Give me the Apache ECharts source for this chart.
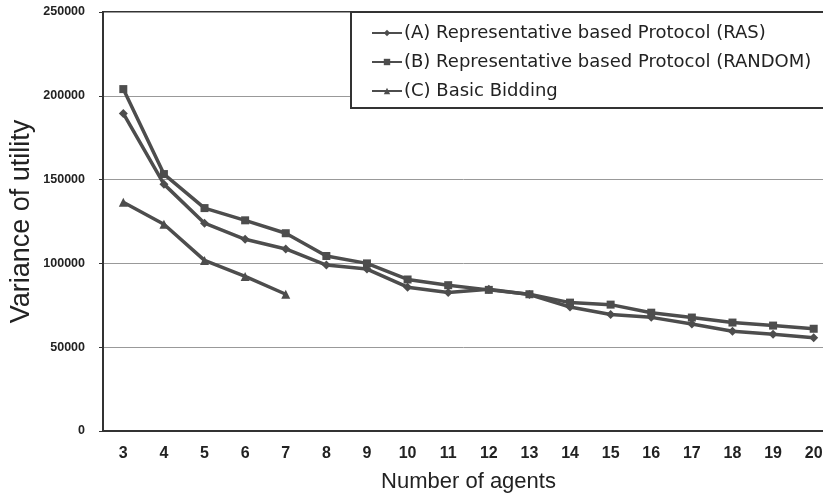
<!DOCTYPE html>
<html>
<head>
<meta charset="utf-8">
<script src="https://cdn.jsdelivr.net/npm/echarts@6/dist/echarts.min.js"></script>
<style>
  html, body { margin: 0; padding: 0; background: #fff; }
  #chart { width: 823px; height: 494px; }
</style>
</head>
<body>
<div id="chart"></div>
<script>
// number of agents
const agents = ['3', '4', '5', '6', '7', '8', '9', '10', '11', '12', '13', '14', '15', '16', '17', '18', '19', '20']
const yTicks = [0, 50000, 100000, 150000, 200000, 250000]

const seriesNames = [
  '(A) Representative based Protocol (RAS)',
  '(B) Representative based Protocol (RANDOM)',
  '(C) Basic Bidding'
]
const rasValues = [189500, 147300, 124000, 114400, 108600, 99000, 96600, 85800, 82600, 84600, 81400, 74000, 69500, 67800, 63800, 59500, 57700, 55700]
const randomValues = [204000, 153300, 133000, 125700, 118000, 104400, 100000, 90400, 87000, 84200, 81600, 76600, 75400, 70600, 67700, 64700, 62900, 61000]
const biddingValues = [136500, 123400, 101800, 92200, 81600]

const lineColor = '#4d4d4d'

function makeSeries(name, data, symbol, size) {
  return {
    name: name,
    type: 'line',
    data: data,
    symbol: symbol,
    symbolSize: size,
    lineStyle: { color: lineColor, width: 3.5 },
    itemStyle: { color: lineColor },
    animation: false
  }
}

const chart = echarts.init(document.getElementById('chart'))
chart.setOption({
  backgroundColor: '#fff',
  textStyle: { fontFamily: 'Liberation Sans, Arial, sans-serif' },
  grid: {
    left: 103,
    top: 12,
    width: 731,
    height: 419,
    outerBoundsMode: 'none',
    containLabel: false,
    show: true,
    borderColor: '#333',
    borderWidth: 2
  },
  legend: {
    orient: 'vertical',
    left: 351,
    top: 12,
    padding: [12, 80, 8, 20],
    itemGap: 11,
    itemWidth: 30,
    itemHeight: 8,
    borderColor: '#333',
    borderWidth: 2,
    backgroundColor: '#fff',
    textStyle: { fontSize: 18, color: '#222', fontFamily: 'DejaVu Sans, sans-serif', padding: [0, 0, 0, -3] },
    data: seriesNames
  },
  xAxis: {
    type: 'category',
    data: agents,
    boundaryGap: true,
    name: 'Number of agents',
    nameLocation: 'middle',
    nameGap: 40,
    nameMoveOverlap: false,
    nameTextStyle: { fontSize: 22, color: '#222' },
    axisLine: { lineStyle: { color: '#333', width: 2 } },
    axisTick: { inside: true, length: 4, lineStyle: { color: '#333' } },
    axisLabel: { fontSize: 16, fontWeight: 'bold', color: '#222', margin: 15, fontFamily: 'Liberation Sans Narrow, Arial Narrow, Arial, sans-serif' }
  },
  yAxis: {
    type: 'value',
    min: yTicks[0],
    max: yTicks[yTicks.length - 1],
    interval: 50000,
    name: 'Variance of utility',
    nameLocation: 'middle',
    nameGap: 68,
    nameMoveOverlap: false,
    nameTextStyle: { fontSize: 27, color: '#222' },
    axisLine: { show: true, lineStyle: { color: '#333', width: 2 } },
    axisTick: { show: true, length: 4, lineStyle: { color: '#333' } },
    axisLabel: { fontSize: 12.5, fontWeight: 'bold', color: '#222', margin: 18, formatter: v => String(v) },
    splitLine: { lineStyle: { color: '#999', width: 1 } }
  },
  series: [
    makeSeries(seriesNames[0], rasValues, 'diamond', 9),
    makeSeries(seriesNames[1], randomValues, 'rect', 8),
    makeSeries(seriesNames[2], biddingValues, 'triangle', 9)
  ]
})
</script>
</body>
</html>
